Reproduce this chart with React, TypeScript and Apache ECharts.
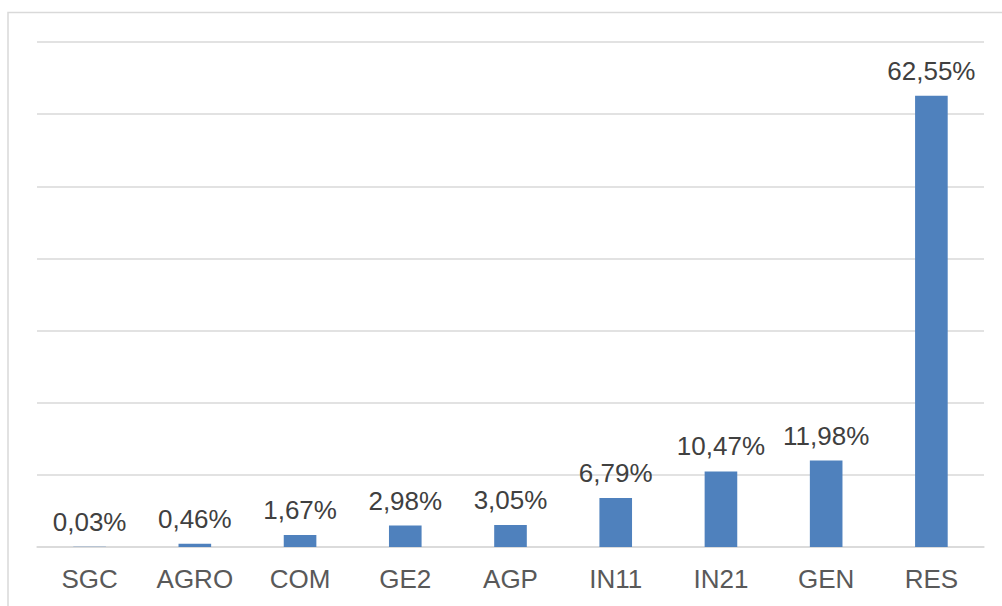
import React, { useEffect, useRef } from "react";
import * as echarts from "echarts";

const categories = ["SGC", "AGRO", "COM", "GE2", "AGP", "IN11", "IN21", "GEN", "RES"];
const values = [0.03, 0.46, 1.67, 2.98, 3.05, 6.79, 10.47, 11.98, 62.55];
const yMin = 0;
const yMax = 70;
const yInterval = 10;

export default function App() {
  const ref = useRef<HTMLDivElement>(null);
  useEffect(() => {
    if (!ref.current) return;
    const chart = echarts.init(ref.current, null, { renderer: "svg" });
    chart.setOption({
      animation: false,
      backgroundColor: "#ffffff",
      textStyle: { fontFamily: "Liberation Sans, Arial, sans-serif" },
      graphic: [
        {
          type: "rect",
          shape: { x: 8, y: 12.5, width: 1100, height: 700 },
          style: { fill: "none", stroke: "#d9d9d9", lineWidth: 1.5 },
          silent: true,
        },
      ],
      grid: { left: 37, right: 18, top: 42, bottom: 59, containLabel: false },
      xAxis: {
        type: "category",
        data: categories,
        axisLine: { show: true, lineStyle: { color: "#d9d9d9", width: 1.5 } },
        axisTick: { show: false },
        axisLabel: {
          color: "#595959",
          fontSize: 26,
          margin: 19,
          fontFamily: "Liberation Sans, Arial, sans-serif",
        },
      },
      yAxis: {
        type: "value",
        min: yMin,
        max: yMax,
        interval: yInterval,
        axisLabel: { show: false },
        axisLine: { show: false },
        axisTick: { show: false },
        splitLine: { show: true, lineStyle: { color: "#d9d9d9", width: 1.5 } },
      },
      series: [
        {
          type: "bar",
          data: values,
          barWidth: "31%",
          itemStyle: { color: "#4f81bd" },
          label: {
            show: true,
            position: "top",
            distance: 12,
            color: "#404040",
            fontSize: 26,
            fontFamily: "Liberation Sans, Arial, sans-serif",
            formatter: (p: any) => p.value.toFixed(2).replace(".", ",") + "%",
          },
        },
      ],
    });
    return () => chart.dispose();
  }, []);
  return (
    <div
      ref={ref}
      style={{ position: "absolute", left: 0, top: 0, width: 1002, height: 606 }}
    />
  );
}
